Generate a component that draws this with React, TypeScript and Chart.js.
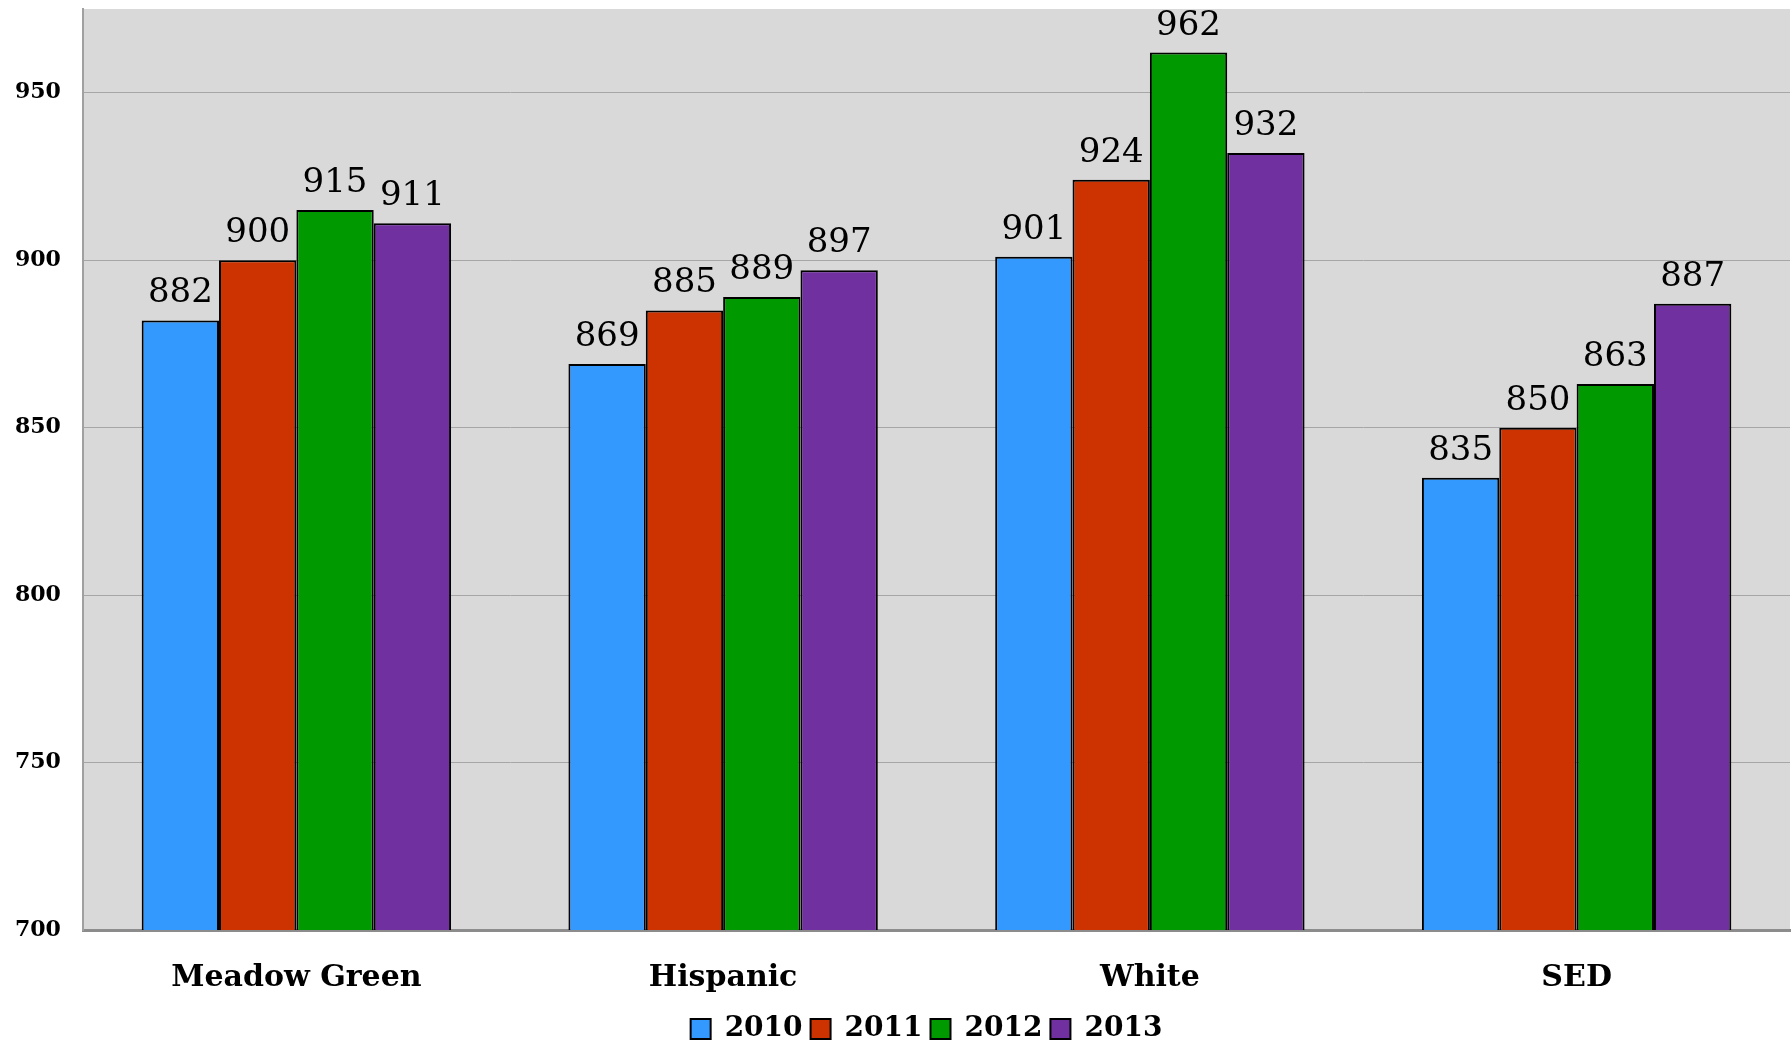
import React, { useEffect, useRef } from 'react';
import { Chart, registerables } from 'chart.js';

Chart.register(...registerables);

const categories = ['Meadow Green', 'Hispanic', 'White', 'SED'];
const years = ['2010', '2011', '2012', '2013'];
const values2010 = [882, 869, 901, 835];
const values2011 = [900, 885, 924, 850];
const values2012 = [915, 889, 962, 863];
const values2013 = [911, 897, 932, 887];
const seriesValues = [values2010, values2011, values2012, values2013];
const seriesColors = ['#3399FF', '#CC3300', '#009900', '#7030A0'];
const yTicks = [700, 750, 800, 850, 900, 950];
const yMin = 700;
const yMax = 975;

const plotBackground = {
  id: 'plotBackground',
  beforeDraw(chart: any) {
    const { ctx, chartArea } = chart;
    if (!chartArea) return;
    ctx.save();
    ctx.fillStyle = '#D9D9D9';
    ctx.fillRect(chartArea.left, chartArea.top, chartArea.right - chartArea.left, chartArea.bottom - chartArea.top);
    ctx.restore();
  },
};

const legendShift = {
  id: 'legendShift',
  afterLayout(chart: any) {
    if (chart.legend) {
      chart.legend.left += 24;
      chart.legend.right += 24;
    }
  },
};

const valueLabels = {
  id: 'valueLabels',
  afterDatasetsDraw(chart: any) {
    const { ctx } = chart;
    ctx.save();
    ctx.font = '34px "DejaVu Serif"';
    ctx.fillStyle = '#000';
    ctx.textAlign = 'center';
    ctx.textBaseline = 'alphabetic';
    chart.data.datasets.forEach((ds: any, i: number) => {
      const meta = chart.getDatasetMeta(i);
      meta.data.forEach((el: any, j: number) => {
        ctx.fillText(String(ds.data[j]), el.x, el.y - 18);
      });
    });
    ctx.restore();
  },
};

export default function App() {
  const ref = useRef<HTMLCanvasElement | null>(null);

  useEffect(() => {
    document.body.style.margin = '0';
    const canvas = ref.current;
    if (!canvas) return;
    const chart = new Chart(canvas, {
      type: 'bar',
      data: {
        labels: categories,
        datasets: years.map((y, i) => ({
          label: y,
          data: seriesValues[i],
          backgroundColor: seriesColors[i],
          borderColor: '#000000',
          borderWidth: 2,
          categoryPercentage: 0.725,
          barPercentage: 1.0,
        })),
      },
      options: {
        responsive: false,
        animation: false,
        devicePixelRatio: 1,
        layout: { padding: { left: 15, top: 9, right: 1, bottom: -7 } },
        plugins: {
          legend: {
            position: 'bottom',
            labels: {
              boxWidth: 20,
              boxHeight: 20,
              padding: 8,
              color: '#000',
              font: { family: '"DejaVu Serif"', weight: 'bold', size: 28 },
            },
          },
          tooltip: { enabled: false },
        },
        scales: {
          x: {
            grid: { display: false, drawTicks: false },
            border: { display: true, color: '#8C8C8C', width: 3 },
            ticks: {
              color: '#000',
              padding: 30,
              font: { family: '"DejaVu Serif"', weight: 'bold', size: 30 },
            },
            afterFit(scale: any) {
              scale.height = 77;
            },
          },
          y: {
            min: yMin,
            max: yMax,
            grid: { color: '#A6A6A6', lineWidth: 1, drawTicks: false },
            border: { display: true, color: '#A0A0A0', width: 2 },
            ticks: {
              color: '#000',
              crossAlign: 'far',
              padding: 0,
              font: { family: '"DejaVu Serif"', weight: 'bold', size: 22 },
            },
            afterBuildTicks(scale: any) {
              scale.ticks = yTicks.map((v) => ({ value: v }));
            },
            afterFit(scale: any) {
              scale.width = 68;
              scale.paddingTop = 0;
              scale.paddingBottom = 0;
            },
          },
        },
      },
      plugins: [plotBackground, legendShift, valueLabels],
    } as any);
    return () => chart.destroy();
  }, []);

  return (
    <div style={{ width: 1791, height: 1046 }}>
      <canvas ref={ref} width={1791} height={1046} style={{ display: 'block' }} />
    </div>
  );
}
